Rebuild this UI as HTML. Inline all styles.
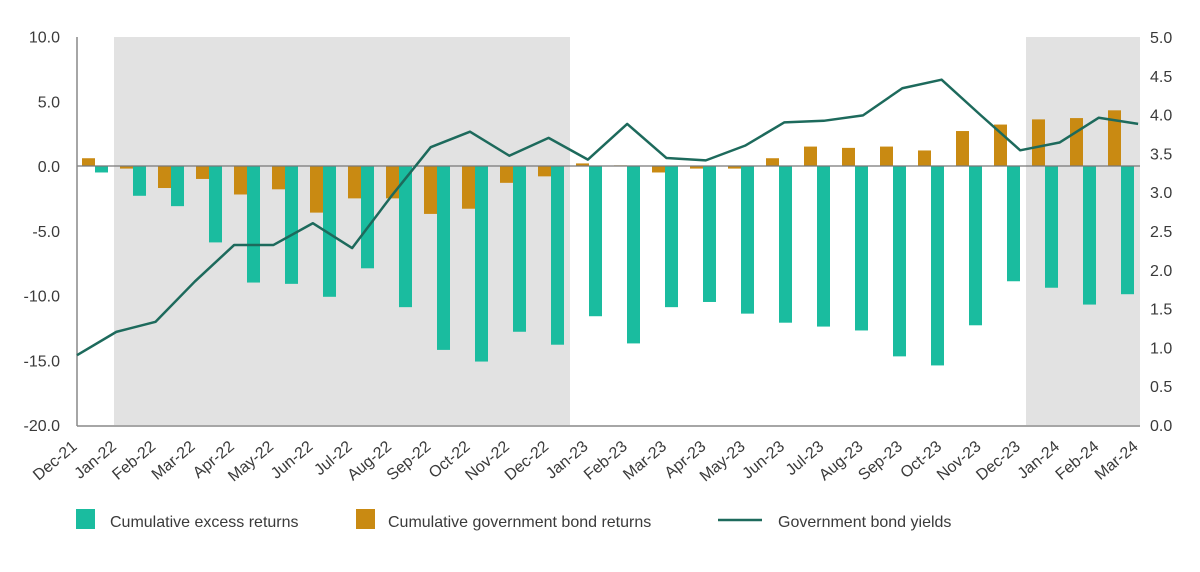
<!DOCTYPE html>
<html><head><meta charset="utf-8"><style>
body{margin:0;background:#fff;font-family:"Liberation Sans",sans-serif;}
svg text{font-family:"Liberation Sans",sans-serif;fill:#3a3a3a;}
</style></head><body>
<svg id="chart" width="1200" height="567" viewBox="0 0 1200 567" xmlns="http://www.w3.org/2000/svg">
<g id="shade"></g><g id="bars"></g><g id="axes"></g><g id="line"></g><g id="labels"></g>
<g>
<rect x="76" y="509" width="19" height="20" fill="#1abc9f"/>
<text x="110" y="527" font-size="16">Cumulative excess returns</text>
<rect x="356" y="509" width="19" height="20" fill="#c98a12"/>
<text x="388" y="527" font-size="16">Cumulative government bond returns</text>
<line x1="718" y1="520" x2="762" y2="520" stroke="#1d6a5c" stroke-width="2.5"/>
<text x="778" y="527" font-size="16">Government bond yields</text>
</g>
</svg>
<script>
const categories=["Dec-21","Jan-22","Feb-22","Mar-22","Apr-22","May-22","Jun-22","Jul-22","Aug-22","Sep-22","Oct-22","Nov-22","Dec-22","Jan-23","Feb-23","Mar-23","Apr-23","May-23","Jun-23","Jul-23","Aug-23","Sep-23","Oct-23","Nov-23","Dec-23","Jan-24","Feb-24","Mar-24"];
const excessReturns=[-0.5,-2.3,-3.1,-5.9,-9.0,-9.1,-10.1,-7.9,-10.9,-14.2,-15.1,-12.8,-13.8,-11.6,-13.7,-10.9,-10.5,-11.4,-12.1,-12.4,-12.7,-14.7,-15.4,-12.3,-8.9,-9.4,-10.7,-9.9];
const govtReturns=[0.6,-0.2,-1.7,-1.0,-2.2,-1.8,-3.6,-2.5,-2.5,-3.7,-3.3,-1.3,-0.8,0.2,0.05,-0.5,-0.2,-0.2,0.6,1.5,1.4,1.5,1.2,2.7,3.2,3.6,3.7,4.3];
const yields=[0.9,1.2,1.33,1.85,2.32,2.32,2.6,2.28,2.95,3.58,3.78,3.47,3.7,3.42,3.88,3.44,3.41,3.6,3.9,3.92,3.99,4.34,4.45,3.99,3.54,3.64,3.96,3.88];
const leftTicks=[10,5,0,-5,-10,-15,-20];
const rightTicks=[5,4.5,4,3.5,3,2.5,2,1.5,1,0.5,0];
const NS="http://www.w3.org/2000/svg";
const yL=v=>166-v*12.95;
const yR=v=>425-v*77.6;
const bandX=i=>76+38*i;
const lineX=i=>77+39.3*i;
function mk(tag,attrs,parent){const e=document.createElementNS(NS,tag);for(const k in attrs)e.setAttribute(k,attrs[k]);document.getElementById(parent).appendChild(e);return e;}
[[114,570],[1026,1140]].forEach(r=>{
 const e=mk('rect',{x:r[0],y:37,width:r[1]-r[0],height:388,fill:'#e2e2e2'},'shade');
 
 
});
categories.forEach((c,i)=>{
 const g=govtReturns[i],x=excessReturns[i],bx=bandX(i);
 const o=mk('rect',{x:bx+6,y:Math.min(yL(g),yL(0)),width:13,height:Math.abs(yL(g)-yL(0)),fill:'#c98a12'},'bars');
 
 
 const t=mk('rect',{x:bx+19,y:Math.min(yL(x),yL(0)),width:13,height:Math.abs(yL(x)-yL(0)),fill:'#1abc9f'},'bars');
 
 
 const lx=lineX(i)+1;
 const l=mk('text',{x:lx,y:448,'font-size':16,'text-anchor':'end',transform:`rotate(-40 ${lx} 448)`},'labels');
 l.textContent=c;
 
 
});
mk('line',{x1:77,y1:yL(0),x2:1140,y2:yL(0),stroke:'#777','stroke-width':1.2},'axes');
mk('line',{x1:77,y1:37,x2:77,y2:426,stroke:'#888','stroke-width':1.5},'axes');
mk('line',{x1:77,y1:426,x2:1140,y2:426,stroke:'#888','stroke-width':1.5},'axes');
leftTicks.forEach(v=>{const t=mk('text',{x:60,y:yL(v)+6,'font-size':16,'text-anchor':'end'},'axes');t.textContent=v.toFixed(1);
 
 });
rightTicks.forEach(v=>{const t=mk('text',{x:1150,y:yR(v)+6,'font-size':16},'axes');t.textContent=v.toFixed(1);
 
 });
const p=mk('polyline',{points:yields.map((v,i)=>lineX(i)+','+yR(v)).join(' '),fill:'none',stroke:'#1d6a5c','stroke-width':2.5,'stroke-linejoin':'round'},'line');


</script>
</body></html>
